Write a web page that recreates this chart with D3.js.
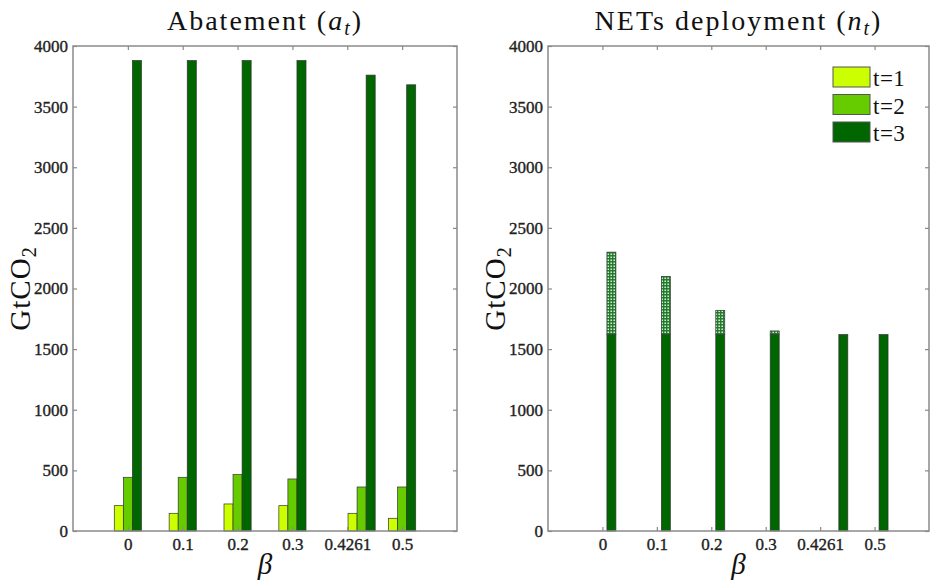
<!DOCTYPE html>
<html>
<head>
<meta charset="utf-8">
<script src="https://cdn.jsdelivr.net/npm/d3@7"></script>
<style>
  body { margin: 0; background: #fff; }
  svg { display: block; }
  .tick text { font-family: "Liberation Serif", serif; font-size: 17px; fill: #222; stroke: #222; stroke-width: 0.35px; }
</style>
</head>
<body>
<svg id="chart" width="931" height="581"></svg>
<script>
"use strict";

// beta values where groups sit, and the (relabelled) tick positions
const betas = [0, 0.1, 0.2, 0.3, 0.4261, 0.5];
const tickVals = [0, 0.1, 0.2, 0.3, 0.4, 0.5];
const tickLabels = ['0', '0.1', '0.2', '0.3', '0.4261', '0.5'];
const yTicks = [0, 500, 1000, 1500, 2000, 2500, 3000, 3500, 4000];

// abatement, GtCO2
const abateT1 = [209, 146, 223, 209, 146, 105];
const abateT2 = [443, 443, 465, 429, 363, 363];
const abateT3 = [3880, 3880, 3880, 3880, 3760, 3680];

// NETs deployment, GtCO2 (t=3 solid part, and top of hatched part)
const netsT1 = [0, 0, 0, 0, 0, 0];
const netsT2 = [0, 0, 0, 0, 0, 0];
const netsT3 = [1620, 1620, 1620, 1620, 1620, 1620];
const netsTop = [2300, 2100, 1820, 1650, 1620, 1620];

const seriesNames = ['t=1', 't=2', 't=3'];
const colors = ['#ccff00', '#66cc00', '#006600'];

const svg = d3.select('#chart');
const frameCol = '#8a8a8a';
const barStep = 0.0165;   // width of one bar in beta units
const serif = '"Liberation Serif", serif';

// hatched fill for the upper NETs part
let pat = svg.append('defs').append('pattern')
  .attr('id', 'grid').attr('width', 3).attr('height', 3)
  .attr('patternUnits', 'userSpaceOnUse');
pat.append('rect').attr('width', 3).attr('height', 3).attr('fill', '#cdeec4');
pat.append('path').attr('d', 'M0 0.7H3M0.7 0V3')
  .attr('stroke', '#237a30').attr('stroke-width', 1.4);

function panel(left, right, series, extra, title) {
  let x = d3.scaleLinear().domain([-0.1, 0.6]).range([left, right]);
  let y = d3.scaleLinear().domain([0, 4000]).range([531, 46]);
  let g = svg.append('g');

  // bars
  series.forEach((vals, si) => {
    g.append('g').selectAll('rect').data(vals).join('rect')
      .attr('x', (d, i) => x(betas[i] + (si - 1) * barStep - barStep / 2))
      .attr('width', x(barStep) - x(0))
      .attr('y', d => y(d))
      .attr('height', d => y(0) - y(d))
      .attr('fill', colors[si])
      .attr('stroke', '#333').attr('stroke-width', 0.7)
      .attr('display', d => d > 0 ? null : 'none');
  });

  if (extra) {
    g.append('g').selectAll('rect').data(extra).join('rect')
      .attr('x', (d, i) => x(betas[i] + barStep - barStep / 2))
      .attr('width', x(barStep) - x(0))
      .attr('y', d => y(d))
      .attr('height', (d, i) => y(series[2][i]) - y(d))
      .attr('fill', 'url(#grid)')
      .attr('stroke', '#333').attr('stroke-width', 0.7)
      .attr('display', (d, i) => d > series[2][i] ? null : 'none');
  }

  // axes, ticks inside like matlab
  let fmt = (d, i) => tickLabels[i];
  let ax = [
    [d3.axisBottom(x).tickValues(tickVals).tickFormat(fmt).tickPadding(7), `translate(0,${y(0)})`],
    [d3.axisTop(x).tickValues(tickVals).tickFormat(''), `translate(0,${y(4000)})`],
    [d3.axisLeft(y).tickValues(yTicks).tickFormat(d3.format('d')).tickPadding(5), `translate(${left},0)`],
    [d3.axisRight(y).tickValues(yTicks).tickFormat(''), `translate(${right},0)`]
  ];
  ax.forEach(([a, tr]) => {
    let ag = g.append('g').attr('transform', tr)
      .call(a.tickSizeInner(-4).tickSizeOuter(0));
    ag.select('.domain').remove();
    ag.selectAll('.tick line').attr('stroke', frameCol).attr('stroke-width', 1.2);
  });

  g.append('rect')
    .attr('x', left).attr('y', y(4000))
    .attr('width', right - left).attr('height', y(0) - y(4000))
    .attr('fill', 'none').attr('stroke', frameCol).attr('stroke-width', 1.5);

  // title with math subscript
  let cx = (left + right) / 2;
  let t = g.append('text')
    .attr('x', cx).attr('y', 30)
    .attr('text-anchor', 'middle')
    .style('font-family', serif)
    .style('font-size', '28px')
    .style('letter-spacing', '2px').attr('fill', '#111');
  t.append('tspan').text(title[0] + ' (');
  t.append('tspan').style('font-style', 'italic').text(title[1]);
  t.append('tspan').style('font-style', 'italic').style('font-size', '20px').attr('dy', 5).text('t');
  t.append('tspan').attr('dy', -5).text(')');

  // y label
  let yl = g.append('text')
    .attr('transform', `translate(${left - 43},${(y(0) + y(4000)) / 2}) rotate(-90)`)
    .attr('text-anchor', 'middle')
    .style('font-family', serif)
    .style('font-size', '29px')
    .style('letter-spacing', '1px').attr('fill', '#111');
  yl.append('tspan').text('GtCO');
  yl.append('tspan').style('font-size', '20px').attr('dy', 6).text('2');

  // x label
  g.append('text')
    .attr('x', cx).attr('y', 574)
    .attr('text-anchor', 'middle')
    .style('font-family', serif)
    .style('font-style', 'italic')
    .style('font-size', '29px').attr('fill', '#111')
    .text('β');

  return g;
}

panel(73, 457, [abateT1, abateT2, abateT3], null, ['Abatement', 'a']);
let rg = panel(548, 929, [netsT1, netsT2, netsT3], netsTop, ['NETs deployment', 'n']);

// legend
let lg = rg.append('g').attr('transform', 'translate(833,67)');
seriesNames.forEach((name, i) => {
  let row = lg.append('g').attr('transform', `translate(0,${i * 27.5})`);
  row.append('rect').attr('width', 37).attr('height', 20)
    .attr('fill', colors[i]).attr('stroke', '#555').attr('stroke-width', 1);
  row.append('text').attr('x', 40).attr('y', 11).attr('dy', '0.35em')
    .style('font-family', serif)
    .style('font-size', '23px')
    .style('letter-spacing', '0.5px').attr('fill', '#111')
    .text(name);
});
</script>
</body>
</html>
